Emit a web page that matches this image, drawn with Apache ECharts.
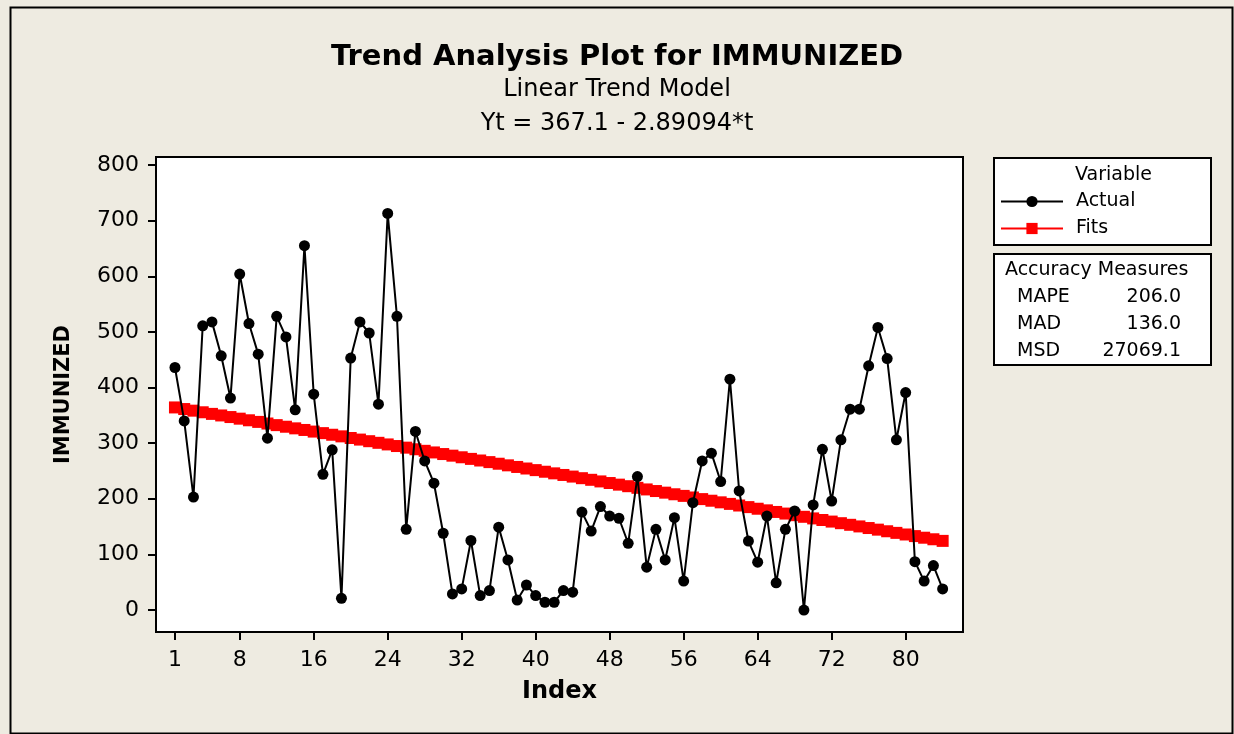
<!DOCTYPE html>
<html>
<head>
<meta charset="utf-8">
<script src="https://cdn.jsdelivr.net/npm/echarts@6/dist/echarts.min.js"></script>
<style>
  html, body { margin: 0; padding: 0; background: #eeebe1; }
  #chart { width: 1234px; height: 734px; }
</style>
</head>
<body>
<div id="chart"></div>
<script>
// observed values, index 1..84
const actual = [
  436, 340, 203, 511, 518, 457, 381, 604, 515, 460,
  309, 528, 491, 360, 655, 388, 244, 288, 21, 453,
  518, 498, 370, 713, 528, 145, 321, 268, 228, 138,
  29, 38, 125, 26, 35, 149, 90, 18, 45, 26,
  14, 14, 35, 32, 176, 142, 186, 169, 165, 120,
  240, 77, 145, 90, 166, 52, 193, 268, 282, 231,
  415, 214, 124, 86, 169, 49, 145, 178, 0, 189,
  289, 196, 306, 361, 361, 439, 508, 452, 306, 391,
  87, 52, 80, 38
]
// fitted trend values (Yt = 367.1 - 2.89094*t)
const fits = [
  364.2, 361.3, 358.4, 355.5, 352.6, 349.8, 346.9, 344.0, 341.1, 338.2,
  335.3, 332.4, 329.5, 326.6, 323.7, 320.8, 318.0, 315.1, 312.2, 309.3,
  306.4, 303.5, 300.6, 297.7, 294.8, 291.9, 289.0, 286.2, 283.3, 280.4,
  277.5, 274.6, 271.7, 268.8, 265.9, 263.0, 260.1, 257.2, 254.4, 251.5,
  248.6, 245.7, 242.8, 239.9, 237.0, 234.1, 231.2, 228.3, 225.4, 222.6,
  219.7, 216.8, 213.9, 211.0, 208.1, 205.2, 202.3, 199.4, 196.5, 193.6,
  190.8, 187.9, 185.0, 182.1, 179.2, 176.3, 173.4, 170.5, 167.6, 164.7,
  161.8, 159.0, 156.1, 153.2, 150.3, 147.4, 144.5, 141.6, 138.7, 135.8,
  132.9, 130.0, 127.2, 124.3
]
const xTicks = [1, 8, 16, 24, 32, 40, 48, 56, 64, 72, 80]
const yTicks = [0, 100, 200, 300, 400, 500, 600, 700, 800]
const measureNames = ['MAPE', 'MAD', 'MSD']
const measureValues = ['206.0', '136.0', '27069.1']

const font = 'DejaVu Sans'
const chart = echarts.init(document.getElementById('chart'))

const measureTexts = []
measureNames.forEach((n, i) => {
  measureTexts.push({
    type: 'text', left: 1017, top: 288 + i * 27,
    style: { text: n, font: '19px ' + font, fill: '#000' }
  })
  measureTexts.push({
    type: 'text', right: 1234 - 1181, top: 288 + i * 27,
    style: { text: measureValues[i], font: '19px ' + font, fill: '#000', textAlign: 'right' }
  })
})

chart.setOption({
  backgroundColor: '#eeebe1',
  animation: false,
  title: [
    { text: 'Trend Analysis Plot for IMMUNIZED', left: 'center', top: 38,
      textStyle: { fontFamily: font, fontSize: 29, fontWeight: 'bold', color: '#000' } },
    { text: 'Linear Trend Model', left: 'center', top: 73,
      textStyle: { fontFamily: font, fontSize: 24, fontWeight: 'normal', color: '#000' } },
    { text: 'Yt = 367.1 - 2.89094*t', left: 'center', top: 107,
      textStyle: { fontFamily: font, fontSize: 24, fontWeight: 'normal', color: '#000' } }
  ],
  grid: {
    left: 156, top: 157, right: 271, bottom: 102,
    show: true, backgroundColor: '#fff', borderColor: '#000', borderWidth: 2
  },
  legend: {
    orient: 'vertical', left: 1000, top: 192, padding: 0,
    itemWidth: 62, itemHeight: 14, itemGap: 8,
    textStyle: { fontFamily: font, fontSize: 19, color: '#000', padding: [0, 0, 0, 8] },
    data: ['Actual', 'Fits']
  },
  xAxis: {
    type: 'value', min: -1.05, max: 86.2,
    name: 'Index', nameLocation: 'middle', nameGap: 48,
    nameTextStyle: { fontFamily: font, fontSize: 24, fontWeight: 'bold', color: '#000' },
    axisLine: { show: true, onZero: false, lineStyle: { color: '#000', width: 2 } },
    axisTick: { show: true, length: 8, customValues: xTicks, lineStyle: { color: '#000', width: 2 } },
    axisLabel: { customValues: xTicks, margin: 17, fontFamily: font, fontSize: 22, color: '#000' },
    splitLine: { show: false }
  },
  yAxis: {
    type: 'value', min: -39.5, max: 814.4,
    name: 'IMMUNIZED', nameLocation: 'middle', nameGap: 82, nameRotate: 90,
    nameTextStyle: { fontFamily: font, fontSize: 21, fontWeight: 'bold', color: '#000' },
    axisLine: { show: true, onZero: false, lineStyle: { color: '#000', width: 2 } },
    axisTick: { show: true, length: 8, customValues: yTicks, lineStyle: { color: '#000', width: 2 } },
    axisLabel: { customValues: yTicks, margin: 17, fontFamily: font, fontSize: 22, color: '#000' },
    splitLine: { show: false }
  },
  series: [
    {
      name: 'Actual', type: 'line',
      data: actual.map((v, i) => [i + 1, v]),
      symbol: 'circle', symbolSize: 11, showAllSymbol: true,
      lineStyle: { color: '#000', width: 2 },
      itemStyle: { color: '#000' },
      z: 3
    },
    {
      name: 'Fits', type: 'line',
      data: fits.map((v, i) => [i + 1, v]),
      symbol: 'rect', symbolSize: 12, showAllSymbol: true,
      lineStyle: { color: '#ff0000', width: 2 },
      itemStyle: { color: '#ff0000' },
      z: 2
    }
  ],
  graphic: [
    { type: 'rect', left: 8, top: 5, shape: { width: 1222, height: 726 },
      style: { fill: 'none', stroke: '#000', lineWidth: 2 }, z: -1 },
    { type: 'rect', left: 993, top: 157, shape: { width: 217, height: 87 },
      style: { fill: '#fff', stroke: '#000', lineWidth: 2 }, z: -1 },
    { type: 'text', left: 1075, top: 166,
      style: { text: 'Variable', font: '19px ' + font, fill: '#000' } },
    { type: 'rect', left: 993, top: 253, shape: { width: 217, height: 111 },
      style: { fill: '#fff', stroke: '#000', lineWidth: 2 }, z: -1 },
    { type: 'text', left: 1005, top: 261,
      style: { text: 'Accuracy Measures', font: '19px ' + font, fill: '#000' } }
  ].concat(measureTexts)
})
</script>
</body>
</html>
